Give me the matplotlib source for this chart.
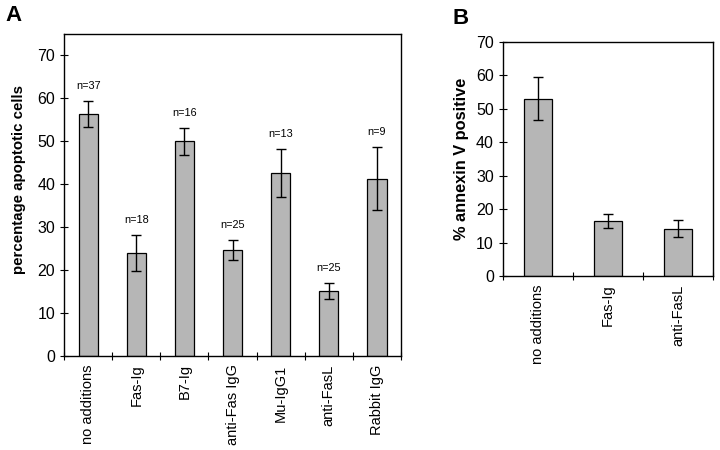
import matplotlib
matplotlib.use("Agg")
import matplotlib.pyplot as plt
import numpy as np

plt.rcParams["font.family"] = ["Liberation Sans", "DejaVu Sans"]

# Panel A data
a_labels = ["no additions", "Fas-Ig", "B7-Ig", "anti-Fas IgG", "Mu-IgG1", "anti-FasL", "Rabbit IgG"]
a_values = [56.4, 23.9, 50.0, 24.7, 42.6, 15.2, 41.3]
a_errors = [3.0, 4.2, 3.2, 2.3, 5.6, 1.9, 7.4]
a_counts = ["n=37", "n=18", "n=16", "n=25", "n=13", "n=25", "n=9"]

# Panel B data
b_labels = ["no additions", "Fas-Ig", "anti-FasL"]
b_values = [53.0, 16.4, 14.2]
b_errors = [6.4, 2.1, 2.6]

bar_color = "#b6b6b6"

fig = plt.figure(figsize=(7.2, 4.5), dpi=100)
ax1 = fig.add_axes([0.089, 0.209, 0.468, 0.7156])
ax2 = fig.add_axes([0.6986, 0.3867, 0.2917, 0.52])


def style_axis(ax, n, ymax):
    x = np.arange(n)
    ax.set_xlim(-0.5, n - 0.5)
    ax.set_ylim(0, ymax)
    ax.set_xticks(x)
    ax.set_xticks(np.arange(n + 1) - 0.5, minor=True)
    ax.tick_params(axis="x", which="major", length=0, pad=6, labelsize=10.5)
    ax.tick_params(axis="x", which="minor", direction="inout", length=6, width=0.8)
    ax.tick_params(axis="y", direction="inout", length=6, width=0.8, labelsize=11.5)
    for s in ax.spines.values():
        s.set_linewidth(1.0)
    return x


# Panel A
x = style_axis(ax1, len(a_labels), 75)
ax1.bar(x, a_values, 0.4, color=bar_color, edgecolor="black", linewidth=0.9,
        yerr=a_errors, capsize=3.5, error_kw=dict(elinewidth=1.0, capthick=1.0))
ax1.set_xticklabels(a_labels, rotation=90)
ax1.set_yticks(np.arange(0, 71, 10))
ax1.set_ylabel("percentage apoptotic cells", fontsize=10.8, fontweight="bold")
ax1.yaxis.set_label_coords(-0.113, 0.547)
for xi, v, e, lab in zip(x, a_values, a_errors, a_counts):
    ax1.text(xi, v + e + 2.3, lab, ha="center", va="bottom", fontsize=7.8)
fig.text(0.008, 0.965, "A", fontsize=16, fontweight="bold", va="center")

# Panel B
x = style_axis(ax2, len(b_labels), 70)
ax2.bar(x, b_values, 0.4, color=bar_color, edgecolor="black", linewidth=0.9,
        yerr=b_errors, capsize=3.5, error_kw=dict(elinewidth=1.0, capthick=1.0))
ax2.set_xticklabels(b_labels, rotation=90)
ax2.set_yticks(np.arange(0, 71, 10))
ax2.set_ylabel("% annexin V positive", fontsize=11.8, fontweight="bold")
ax2.yaxis.set_label_coords(-0.162, 0.5)
fig.text(0.628, 0.96, "B", fontsize=16, fontweight="bold", va="center")

fig.savefig("out.png", dpi=100)
